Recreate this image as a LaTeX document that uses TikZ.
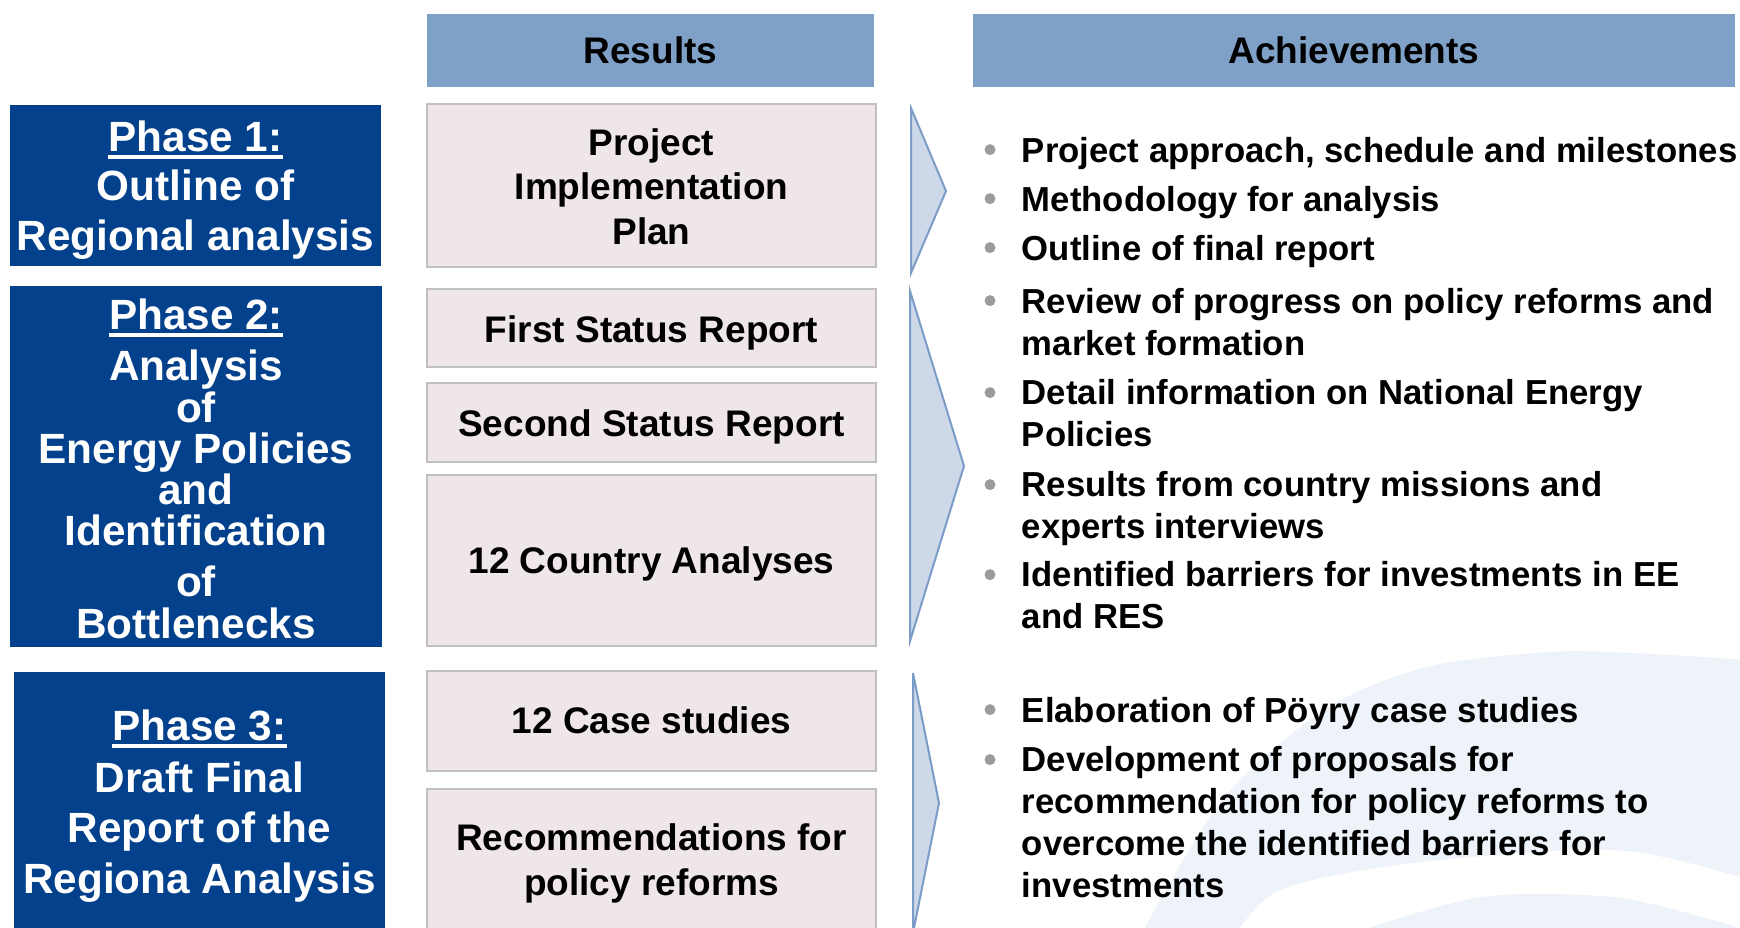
\documentclass[tikz,border=0pt]{standalone}
\usepackage{fontspec}
\setmainfont{Liberation Sans}
\usetikzlibrary{calc}
\definecolor{phaseblue}{HTML}{03418C}
\definecolor{headblue}{HTML}{7FA1C8}
\definecolor{resfill}{HTML}{EFE6E7}
\definecolor{resline}{HTML}{C0C0C0}
\definecolor{chevfill}{HTML}{CDD9E8}
\definecolor{chevline}{HTML}{7A9CC6}
\definecolor{bulletgrey}{HTML}{9B9B9B}
\definecolor{swoosh}{HTML}{EEF2F9}
\begin{document}
\begin{tikzpicture}[x=0.5pt,y=-0.5pt,
  phasebox/.style={fill=phaseblue, draw=none, inner sep=0},
  headbox/.style={fill=headblue, draw=none, inner sep=0, minimum height=36.5pt},
  resbox/.style={fill=resfill, draw=resline, line width=1.3pt, inner sep=0, minimum width=224.5pt},
  chevron/.style={fill=chevfill, draw=chevline, line width=1pt, line join=miter},
  phasetext/.style={text=white, font=\fontsize{21.15pt}{24.75pt}\selectfont\bfseries, inner sep=0, anchor=base, align=center},
  restext/.style={text=black, font=\fontsize{18.5pt}{22.25pt}\selectfont\bfseries, inner sep=0, anchor=base, align=center},
  itemtext/.style={text=black, font=\fontsize{17.35pt}{20.9pt}\selectfont\bfseries, inner sep=0, anchor=base west, align=left},
  bulletdot/.style={fill=bulletgrey, draw=none, circle, inner sep=0, minimum size=5.5pt},
  uline/.style={draw=white, line width=2pt}
]
\useasboundingbox (0,0) rectangle (1740,927);
\clip (0,0) rectangle (1740,927);

% background swoosh
\fill[swoosh] plot[smooth] coordinates {(1141,935) (1222,800) (1324,710) (1426,667) (1549,652) (1633,653) (1750,660)} -- (1750,940) -- (1130,940) -- cycle;
\fill[white] plot[smooth] coordinates {(1232,940) (1280,890) (1413,863) (1613,850) (1740,877) (1760,890)} -- plot[smooth] coordinates {(1760,935) (1713,920) (1613,897) (1480,897) (1347,935)} -- cycle;

% headers
\node[headbox, minimum width=223.5pt] (hres) at (650.5,50.5) {};
\node[headbox, minimum width=381pt] (hach) at (1354,50.5) {};
\node[restext] (hrest) at (650.5,63) {Results};
\node[restext] (hacht) at (1354,63) {Achievements};

% phase boxes (multi-line texts are anchored at the baseline of their last line)
\node[phasebox, minimum width=185.5pt, minimum height=80.5pt] (p1) at (195.5,185.5) {};
\node[phasebox, minimum width=186pt, minimum height=180.5pt] (p2) at (196,466.5) {};
\node[phasebox, minimum width=185.5pt, minimum height=134pt] (p3) at (199.5,806) {};

\node[phasetext] (ph1) at (195.5,151) {Phase 1:};
\node[phasetext] (pt1) at (195.5,250) {Outline of\\Regional analysis};
\draw[uline] ($(ph1.base west)+(0,6)$) -- ($(ph1.base east)+(0,6)$);

\node[phasetext] (ph2) at (196,329) {Phase 2:};
\node[phasetext, font=\fontsize{21.15pt}{20.6pt}\selectfont\bfseries] (pt2) at (196,638) {Analysis\\of\\Energy Policies\\and\\Identification\\[5pt]of\\Bottlenecks};
\draw[uline] ($(ph2.base west)+(0,6)$) -- ($(ph2.base east)+(0,6)$);

\node[phasetext] (ph3) at (199.5,740) {Phase 3:};
\node[phasetext, font=\fontsize{21.15pt}{25.25pt}\selectfont\bfseries] (pt3) at (199.5,893) {Draft Final\\Report of the\\Regiona Analysis};
\draw[uline] ($(ph3.base west)+(0,6)$) -- ($(ph3.base east)+(0,6)$);

% result boxes
\node[resbox, minimum height=81.5pt] (r1) at (651.5,185.5) {};
\node[resbox, minimum height=39pt] (r2) at (651.5,328) {};
\node[resbox, minimum height=39.5pt] (r3) at (651.5,422.5) {};
\node[resbox, minimum height=85.5pt] (r4) at (651.5,560.5) {};
\node[resbox, minimum height=50pt] (r5) at (651.5,721) {};
\node[resbox, minimum height=78pt] (r6) at (651.5,867) {};

\node[restext] (rt1) at (651.5,244) {Project\\Implementation\\Plan};
\node[restext] (rt2) at (651.5,342) {First Status Report};
\node[restext] (rt3) at (651.5,436) {Second Status Report};
\node[restext] (rt4) at (651.5,573) {12 Country Analyses};
\node[restext] (rt5) at (651.5,733) {12 Case studies};
\node[restext, font=\fontsize{18.5pt}{22.5pt}\selectfont\bfseries] (rt6) at (651.5,895) {Recommendations for\\policy reforms};

% chevrons
\draw[chevron] (911,108) -- (946,191) -- (911,273) -- cycle;
\draw[chevron] (910,291) -- (964,466) -- (910,641) -- cycle;
\draw[chevron] (913,673) -- (939,803) -- (913,933) -- cycle;

% achievements
\node[itemtext] (i1) at (1021.5,162) {Project approach, schedule and milestones};
\node[itemtext] (i2) at (1021.5,211) {Methodology for analysis};
\node[itemtext] (i3) at (1021.5,260) {Outline of final report};
\node[itemtext] (i4) at (1021.5,355) {Review of progress on policy reforms and\\market formation};
\node[itemtext] (i5) at (1021.5,446) {Detail information on National Energy\\Policies};
\node[itemtext] (i6) at (1021.5,538) {Results from country missions and\\experts interviews};
\node[itemtext] (i7) at (1021.5,628) {Identified barriers for investments in EE\\and RES};
\node[itemtext] (i8) at (1021.5,722) {Elaboration of Pöyry case studies};
\node[itemtext] (i9) at (1021.5,897) {Development of proposals for\\recommendation for policy reforms to\\overcome the identified barriers for\\investments};

\node[bulletdot] (d1) at (990,149.6) {};
\node[bulletdot] (d2) at (990,198.6) {};
\node[bulletdot] (d3) at (990,247.6) {};
\node[bulletdot] (d4) at (990,300.6) {};
\node[bulletdot] (d5) at (990,392.6) {};
\node[bulletdot] (d6) at (990,484.6) {};
\node[bulletdot] (d7) at (990,574.6) {};
\node[bulletdot] (d8) at (990,709.6) {};
\node[bulletdot] (d9) at (990,759.6) {};
\end{tikzpicture}
\end{document}
